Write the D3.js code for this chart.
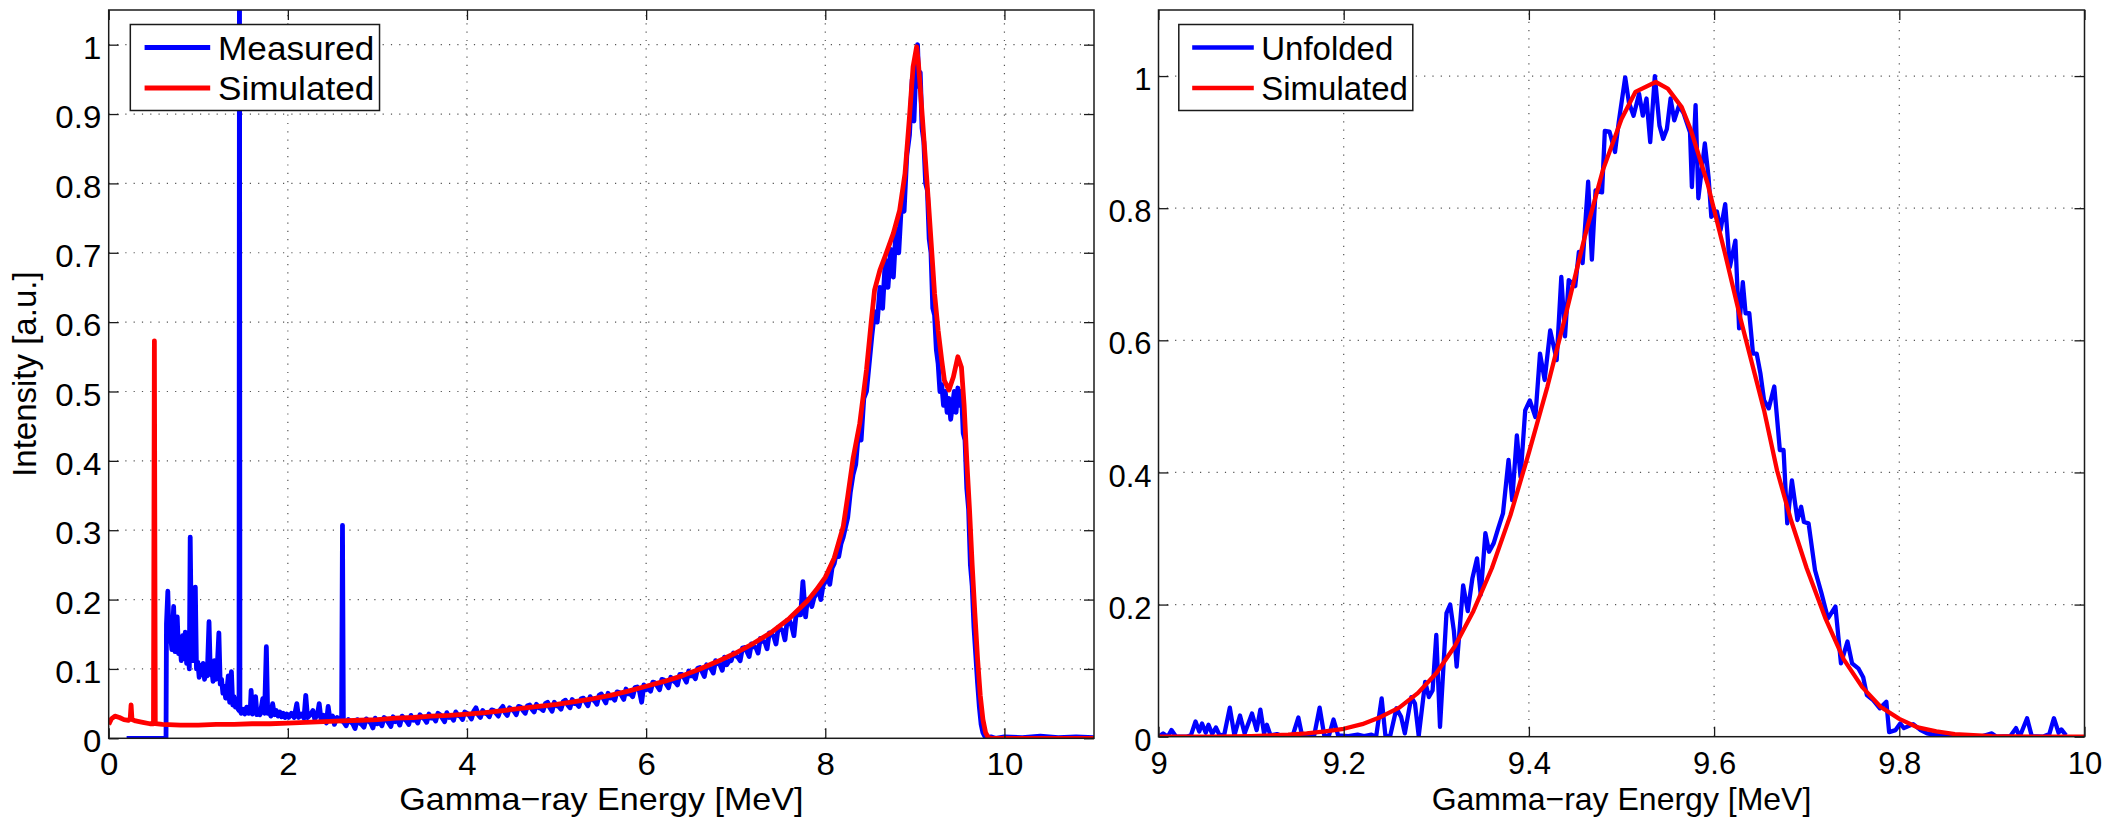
<!DOCTYPE html>
<html>
<head>
<meta charset="utf-8">
<script src="https://cdn.jsdelivr.net/npm/d3@7"></script>
<style>
  body { margin: 0; background: #fff; }
  svg { display: block; font-family: 'Liberation Sans', Arial, Helvetica, sans-serif; }
</style>
</head>
<body>
<svg width="2104" height="818"></svg>
<script>
/* global d3 */

// left panel: full spectrum, [energy MeV, intensity]
const measured = [
  [0.20, 0], [0.64, 0], [0.645, 0.165], [0.66, 0.212], [0.675, 0.140], [0.69, 0.150], [0.705, 0.128], [0.725, 0.190],
  [0.74, 0.125], [0.755, 0.130], [0.765, 0.175], [0.78, 0.122], [0.795, 0.140], [0.81, 0.112], [0.825, 0.148], [0.84, 0.115],
  [0.855, 0.153], [0.87, 0.108], [0.885, 0.128], [0.90, 0.100], [0.91, 0.290], [0.925, 0.118], [0.94, 0.112], [0.955, 0.125],
  [0.967, 0.218], [0.98, 0.100], [0.995, 0.110], [1.01, 0.088], [1.025, 0.105], [1.04, 0.092], [1.055, 0.108], [1.07, 0.085],
  [1.085, 0.102], [1.10, 0.090], [1.12, 0.168], [1.135, 0.092], [1.15, 0.100], [1.165, 0.082], [1.18, 0.112], [1.195, 0.085],
  [1.21, 0.098], [1.23, 0.152], [1.245, 0.078], [1.26, 0.085], [1.275, 0.065], [1.29, 0.075], [1.305, 0.058], [1.32, 0.070],
  [1.335, 0.090], [1.35, 0.052], [1.37, 0.096], [1.385, 0.048], [1.40, 0.060], [1.415, 0.045], [1.43, 0.050], [1.445, 0.042],
  [1.455, 0.040], [1.46, 1.2], [1.465, 0.040], [1.48, 0.036], [1.50, 0.042], [1.52, 0.035], [1.54, 0.045], [1.56, 0.036],
  [1.58, 0.040], [1.59, 0.069], [1.605, 0.035], [1.62, 0.042], [1.64, 0.060], [1.655, 0.034], [1.67, 0.040], [1.69, 0.034],
  [1.72, 0.057], [1.74, 0.036], [1.76, 0.132], [1.775, 0.036], [1.79, 0.040], [1.81, 0.032], [1.83, 0.050], [1.85, 0.034],
  [1.87, 0.040], [1.89, 0.032], [1.91, 0.038], [1.93, 0.031], [1.95, 0.036], [1.97, 0.030], [1.99, 0.035], [2.01, 0.030],
  [2.04, 0.036], [2.07, 0.030], [2.10, 0.050], [2.12, 0.030], [2.15, 0.035], [2.18, 0.029], [2.20, 0.062], [2.22, 0.030],
  [2.25, 0.034], [2.28, 0.040], [2.30, 0.028], [2.33, 0.034], [2.35, 0.050], [2.37, 0.028], [2.40, 0.033], [2.43, 0.022],
  [2.45, 0.046], [2.47, 0.028], [2.50, 0.032], [2.52, 0.020], [2.55, 0.030], [2.58, 0.026], [2.60, 0.025], [2.61, 0.307],
  [2.62, 0.024], [2.65, 0.018], [2.675, 0.027], [2.70, 0.024], [2.725, 0.021], [2.75, 0.014], [2.775, 0.027], [2.80, 0.022],
  [2.825, 0.020], [2.85, 0.016], [2.875, 0.028], [2.90, 0.025], [2.925, 0.022], [2.95, 0.015], [2.975, 0.029], [3.00, 0.021],
  [3.025, 0.024], [3.05, 0.018], [3.075, 0.030], [3.10, 0.027], [3.125, 0.022], [3.15, 0.017], [3.175, 0.031], [3.20, 0.024],
  [3.225, 0.026], [3.25, 0.019], [3.275, 0.032], [3.30, 0.028], [3.325, 0.025], [3.35, 0.020], [3.375, 0.033], [3.40, 0.026],
  [3.425, 0.027], [3.45, 0.022], [3.475, 0.034], [3.50, 0.030], [3.525, 0.028], [3.55, 0.023], [3.575, 0.035], [3.60, 0.029],
  [3.625, 0.030], [3.65, 0.025], [3.675, 0.036], [3.70, 0.034], [3.725, 0.029], [3.75, 0.024], [3.775, 0.037], [3.80, 0.030],
  [3.825, 0.031], [3.85, 0.026], [3.875, 0.038], [3.90, 0.033], [3.925, 0.032], [3.95, 0.027], [3.975, 0.038], [4.00, 0.036],
  [4.025, 0.033], [4.05, 0.028], [4.075, 0.039], [4.10, 0.044], [4.125, 0.034], [4.15, 0.030], [4.175, 0.040], [4.20, 0.036],
  [4.225, 0.035], [4.25, 0.031], [4.275, 0.041], [4.30, 0.040], [4.325, 0.036], [4.35, 0.032], [4.375, 0.042], [4.40, 0.046],
  [4.425, 0.037], [4.45, 0.033], [4.475, 0.044], [4.50, 0.042], [4.525, 0.039], [4.55, 0.034], [4.575, 0.046], [4.60, 0.045],
  [4.625, 0.040], [4.65, 0.036], [4.675, 0.047], [4.70, 0.048], [4.725, 0.042], [4.75, 0.038], [4.775, 0.049], [4.80, 0.044],
  [4.825, 0.043], [4.85, 0.040], [4.875, 0.050], [4.90, 0.052], [4.925, 0.044], [4.95, 0.039], [4.975, 0.052], [5.00, 0.047],
  [5.025, 0.046], [5.05, 0.042], [5.075, 0.053], [5.10, 0.055], [5.125, 0.048], [5.15, 0.044], [5.175, 0.056], [5.20, 0.050],
  [5.225, 0.050], [5.25, 0.046], [5.275, 0.057], [5.30, 0.058], [5.325, 0.052], [5.35, 0.047], [5.375, 0.060], [5.40, 0.056],
  [5.425, 0.054], [5.45, 0.049], [5.475, 0.062], [5.50, 0.064], [5.525, 0.057], [5.55, 0.051], [5.575, 0.065], [5.60, 0.058],
  [5.625, 0.059], [5.65, 0.055], [5.675, 0.067], [5.70, 0.066], [5.725, 0.062], [5.75, 0.056], [5.775, 0.071], [5.80, 0.064],
  [5.825, 0.064], [5.85, 0.060], [5.875, 0.073], [5.90, 0.074], [5.925, 0.068], [5.95, 0.052], [5.975, 0.077], [6.00, 0.070],
  [6.025, 0.072], [6.05, 0.068], [6.075, 0.081], [6.10, 0.080], [6.125, 0.075], [6.15, 0.070], [6.175, 0.085], [6.20, 0.084],
  [6.225, 0.078], [6.25, 0.073], [6.275, 0.088], [6.30, 0.083], [6.325, 0.081], [6.35, 0.077], [6.375, 0.092], [6.40, 0.092],
  [6.425, 0.087], [6.45, 0.081], [6.475, 0.097], [6.50, 0.090], [6.525, 0.091], [6.55, 0.086], [6.575, 0.101], [6.60, 0.102],
  [6.625, 0.096], [6.65, 0.089], [6.675, 0.106], [6.70, 0.103], [6.725, 0.100], [6.75, 0.094], [6.775, 0.112], [6.80, 0.108],
  [6.825, 0.106], [6.85, 0.098], [6.875, 0.117], [6.90, 0.106], [6.925, 0.111], [6.95, 0.112], [6.975, 0.123], [7.00, 0.119],
  [7.025, 0.117], [7.05, 0.112], [7.075, 0.130], [7.10, 0.131], [7.125, 0.125], [7.15, 0.118], [7.175, 0.136], [7.20, 0.132],
  [7.225, 0.131], [7.25, 0.123], [7.275, 0.144], [7.30, 0.140], [7.325, 0.139], [7.35, 0.129], [7.375, 0.152], [7.40, 0.150],
  [7.425, 0.147], [7.45, 0.136], [7.475, 0.160], [7.50, 0.158], [7.525, 0.155], [7.55, 0.142], [7.575, 0.170], [7.60, 0.170],
  [7.625, 0.162], [7.65, 0.148], [7.675, 0.180], [7.70, 0.178], [7.725, 0.178], [7.75, 0.226], [7.78, 0.175], [7.80, 0.200],
  [7.825, 0.198], [7.85, 0.190], [7.875, 0.203], [7.90, 0.208], [7.925, 0.216], [7.95, 0.200], [7.975, 0.220], [8.00, 0.226],
  [8.025, 0.236], [8.05, 0.222], [8.075, 0.245], [8.10, 0.252], [8.125, 0.268], [8.15, 0.262], [8.175, 0.280], [8.20, 0.290],
  [8.25, 0.318], [8.28, 0.355], [8.31, 0.380], [8.34, 0.395], [8.37, 0.440], [8.40, 0.430], [8.43, 0.490], [8.46, 0.500],
  [8.49, 0.540], [8.52, 0.580], [8.55, 0.615], [8.58, 0.600], [8.61, 0.650], [8.64, 0.620], [8.67, 0.690], [8.70, 0.650],
  [8.73, 0.705], [8.76, 0.665], [8.79, 0.735], [8.82, 0.700], [8.85, 0.770], [8.88, 0.760], [8.91, 0.840], [8.94, 0.870],
  [8.97, 0.950], [8.99, 0.890], [9.01, 0.960], [9.03, 1.000], [9.045, 0.940], [9.06, 0.960], [9.08, 0.880], [9.10, 0.860],
  [9.12, 0.800], [9.14, 0.790], [9.16, 0.720], [9.18, 0.700], [9.20, 0.620], [9.22, 0.610], [9.24, 0.560], [9.26, 0.540],
  [9.28, 0.500], [9.30, 0.510], [9.32, 0.480], [9.34, 0.500], [9.36, 0.470], [9.38, 0.490], [9.40, 0.460], [9.42, 0.480],
  [9.44, 0.500], [9.46, 0.470], [9.48, 0.505], [9.50, 0.480], [9.52, 0.500], [9.54, 0.440], [9.56, 0.430], [9.58, 0.360],
  [9.60, 0.330], [9.62, 0.250], [9.64, 0.220], [9.66, 0.160], [9.68, 0.120], [9.70, 0.080], [9.72, 0.045], [9.74, 0.020],
  [9.76, 0.008], [9.78, 0.003], [9.80, 0.001], [9.85, 0.002], [9.90, 0], [10.0, 0.002], [10.2, 0.001], [10.4, 0.003],
  [10.6, 0.001], [10.8, 0.002], [11.0, 0.001],
];

const simulated = [
  [0.00, 0.020], [0.03, 0.028], [0.07, 0.032], [0.12, 0.030], [0.17, 0.027], [0.22, 0.026], [0.24, 0.028], [0.25, 0.048],
  [0.26, 0.027], [0.30, 0.025], [0.38, 0.023], [0.46, 0.021], [0.50, 0.021], [0.51, 0.573], [0.52, 0.021], [0.60, 0.020],
  [0.80, 0.019], [1.00, 0.019], [1.20, 0.020], [1.40, 0.020], [1.60, 0.021], [1.80, 0.021], [2.00, 0.022], [2.20, 0.023],
  [2.40, 0.024], [2.60, 0.025], [2.80, 0.026], [3.00, 0.027], [3.20, 0.029], [3.40, 0.030], [3.60, 0.032], [3.80, 0.033],
  [4.00, 0.035], [4.20, 0.037], [4.40, 0.040], [4.60, 0.043], [4.80, 0.046], [5.00, 0.049], [5.20, 0.053], [5.40, 0.057],
  [5.60, 0.062], [5.80, 0.068], [6.00, 0.075], [6.20, 0.082], [6.40, 0.090], [6.60, 0.100], [6.80, 0.111], [7.00, 0.123],
  [7.20, 0.137], [7.40, 0.153], [7.60, 0.173], [7.80, 0.198], [7.90, 0.214], [8.00, 0.232], [8.10, 0.260], [8.20, 0.305],
  [8.25, 0.348], [8.31, 0.403], [8.385, 0.454], [8.46, 0.531], [8.515, 0.603], [8.55, 0.646], [8.61, 0.675], [8.68, 0.699],
  [8.76, 0.728], [8.83, 0.761], [8.89, 0.814], [8.94, 0.896], [8.98, 0.968], [9.02, 0.997], [9.04, 0.973], [9.07, 0.920],
  [9.11, 0.848], [9.15, 0.776], [9.19, 0.699], [9.22, 0.641], [9.26, 0.588], [9.30, 0.545], [9.33, 0.516], [9.38, 0.502],
  [9.43, 0.521], [9.48, 0.550], [9.52, 0.535], [9.55, 0.480], [9.58, 0.400], [9.61, 0.330], [9.64, 0.250], [9.67, 0.180],
  [9.70, 0.115], [9.73, 0.062], [9.76, 0.027], [9.79, 0.008], [9.82, 0.001], [9.86, 0], [11.0, 0],
];

// right panel: full-energy peak, [energy MeV, intensity]
const unfolded = [
  [9.000, 0], [9.005, 0.005], [9.010, 0], [9.014, 0.010], [9.019, 0], [9.030, 0], [9.035, 0.002], [9.040, 0.023],
  [9.044, 0.008], [9.047, 0.020], [9.051, 0.006], [9.054, 0.018], [9.058, 0.004], [9.062, 0.014], [9.066, 0.002], [9.071, 0.003],
  [9.077, 0.044], [9.082, 0.002], [9.088, 0.032], [9.093, 0.005], [9.101, 0.035], [9.106, 0.010], [9.110, 0.041], [9.114, 0.005],
  [9.117, 0.018], [9.121, 0.002], [9.128, 0.004], [9.135, 0], [9.145, 0.002], [9.151, 0.029], [9.155, 0.002], [9.168, 0.001],
  [9.174, 0.044], [9.179, 0.002], [9.184, 0.001], [9.189, 0.026], [9.194, 0.002], [9.205, 0.001], [9.215, 0.003], [9.222, 0.001],
  [9.230, 0.003], [9.235, 0], [9.241, 0.058], [9.245, 0.002], [9.250, 0], [9.257, 0.043], [9.262, 0.030], [9.266, 0.005],
  [9.273, 0.060], [9.277, 0.050], [9.281, 0.001], [9.288, 0.083], [9.292, 0.060], [9.296, 0.070], [9.300, 0.154], [9.304, 0.015],
  [9.311, 0.187], [9.315, 0.200], [9.319, 0.160], [9.322, 0.106], [9.329, 0.229], [9.334, 0.190], [9.339, 0.240], [9.344, 0.270],
  [9.348, 0.215], [9.353, 0.308], [9.357, 0.280], [9.362, 0.293], [9.367, 0.316], [9.372, 0.338], [9.378, 0.419], [9.382, 0.358],
  [9.387, 0.456], [9.391, 0.393], [9.396, 0.494], [9.401, 0.509], [9.407, 0.484], [9.412, 0.580], [9.417, 0.540], [9.423, 0.615],
  [9.430, 0.570], [9.435, 0.696], [9.439, 0.606], [9.443, 0.691], [9.450, 0.682], [9.454, 0.734], [9.458, 0.717], [9.464, 0.840],
  [9.468, 0.722], [9.472, 0.827], [9.479, 0.824], [9.482, 0.917], [9.487, 0.916], [9.493, 0.885], [9.497, 0.930], [9.504, 0.998],
  [9.508, 0.960], [9.513, 0.940], [9.519, 0.973], [9.523, 0.940], [9.527, 0.966], [9.531, 0.900], [9.536, 1.000], [9.541, 0.925],
  [9.545, 0.905], [9.549, 0.920], [9.553, 0.966], [9.557, 0.933], [9.562, 0.955], [9.567, 0.944], [9.574, 0.915], [9.576, 0.832],
  [9.580, 0.956], [9.583, 0.815], [9.590, 0.898], [9.594, 0.847], [9.597, 0.787], [9.603, 0.795], [9.607, 0.767], [9.612, 0.806],
  [9.617, 0.711], [9.623, 0.751], [9.627, 0.618], [9.631, 0.688], [9.634, 0.641], [9.638, 0.641], [9.642, 0.580], [9.646, 0.580],
  [9.650, 0.550], [9.654, 0.509], [9.659, 0.497], [9.665, 0.530], [9.671, 0.434], [9.675, 0.434], [9.679, 0.323], [9.684, 0.388],
  [9.690, 0.328], [9.694, 0.348], [9.697, 0.325], [9.702, 0.323], [9.709, 0.252], [9.716, 0.217], [9.723, 0.179], [9.731, 0.197],
  [9.737, 0.111], [9.744, 0.144], [9.749, 0.111], [9.756, 0.103], [9.761, 0.090], [9.765, 0.063], [9.772, 0.055], [9.779, 0.043],
  [9.786, 0.053], [9.789, 0.007], [9.796, 0.010], [9.801, 0.020], [9.805, 0.013], [9.815, 0.019], [9.823, 0.010], [9.830, 0.005],
  [9.837, 0.003], [9.850, 0.001], [9.870, 0], [9.890, 0.001], [9.900, 0.005], [9.905, 0], [9.920, 0.001], [9.926, 0.013],
  [9.930, 0], [9.938, 0.028], [9.943, 0.001], [9.955, 0], [9.962, 0.004], [9.967, 0.028], [9.972, 0.006], [9.975, 0.011],
  [9.980, 0.002],
];

const simulatedPeak = [
  [9.00, 0], [9.06, 0], [9.10, 0.001], [9.14, 0.003], [9.16, 0.005], [9.18, 0.008], [9.20, 0.012], [9.22, 0.019],
  [9.24, 0.030], [9.26, 0.044], [9.28, 0.066], [9.30, 0.096], [9.32, 0.137], [9.34, 0.190], [9.36, 0.255], [9.38, 0.335],
  [9.40, 0.430], [9.42, 0.530], [9.44, 0.640], [9.46, 0.755], [9.48, 0.858], [9.50, 0.935], [9.515, 0.976], [9.537, 0.991],
  [9.55, 0.981], [9.565, 0.953], [9.575, 0.918], [9.593, 0.837], [9.611, 0.736], [9.629, 0.630], [9.654, 0.494], [9.668, 0.403],
  [9.683, 0.328], [9.70, 0.255], [9.72, 0.180], [9.74, 0.117], [9.76, 0.075], [9.78, 0.045], [9.80, 0.027], [9.82, 0.014],
  [9.84, 0.008], [9.86, 0.004], [9.90, 0.001], [9.95, 0], [10.0, 0],
];

const leftXTicks = [0, 2, 4, 6, 8, 10];
const leftXLabels = ['0', '2', '4', '6', '8', '10'];
const leftYTicks = [0, 0.1, 0.2, 0.3, 0.4, 0.5, 0.6, 0.7, 0.8, 0.9, 1];
const leftYLabels = ['0', '0.1', '0.2', '0.3', '0.4', '0.5', '0.6', '0.7', '0.8', '0.9', '1'];
const rightXTicks = [9, 9.2, 9.4, 9.6, 9.8, 10];
const rightXLabels = ['9', '9.2', '9.4', '9.6', '9.8', '10'];
const rightYTicks = [0, 0.2, 0.4, 0.6, 0.8, 1];
const rightYLabels = ['0', '0.2', '0.4', '0.6', '0.8', '1'];
const xTitle = 'Gamma\u2212ray Energy [MeV]';
const yTitle = 'Intensity [a.u.]';

const blue = '#0000ff';
const red = '#ff0000';
const ink = '#1a1a1a';

const svg = d3.select('svg');

const panels = [
  {
    id: 'left', left: 108.7, right: 1094, top: 10, bottom: 738.3, sx: 1.065,
    xDomain: [0, 11], yDomain: [0, 1.05],
    xTicks: leftXTicks, xLabels: leftXLabels, yTicks: leftYTicks, yLabels: leftYLabels,
    series: [
      { name: 'Measured', data: measured, color: blue },
      { name: 'Simulated', data: simulated, color: red },
    ],
    titleBaseline: 810, lineWidth: 4.8,
  },
  {
    id: 'right', left: 1158.5, right: 2084.5, top: 10, bottom: 736.7, sx: 1,
    xDomain: [9, 10], yDomain: [0, 1.1],
    xTicks: rightXTicks, xLabels: rightXLabels, yTicks: rightYTicks, yLabels: rightYLabels,
    series: [
      { name: 'Unfolded', data: unfolded, color: blue },
      { name: 'Simulated', data: simulatedPeak, color: red },
    ],
    titleBaseline: 810, lineWidth: 4.3,
  },
];

panels.forEach(drawPanel);

// y label only on the left panel
svg.append('text')
  .attr('transform', `translate(36,${(panels[0].top + panels[0].bottom) / 2}) rotate(-90)`)
  .attr('text-anchor', 'middle')
  .attr('font-size', 33)
  .attr('fill', '#000')
  .text(yTitle);

function drawPanel(p) {
  const x = d3.scaleLinear().domain(p.xDomain).range([p.left, p.right]);
  const y = d3.scaleLinear().domain(p.yDomain).range([p.bottom, p.top]);
  const g = svg.append('g').attr('class', `panel-${p.id}`);
  const stretch = `scale(${p.sx},1)`;

  g.append('clipPath').attr('id', `clip-${p.id}`)
    .append('rect')
    .attr('x', p.left).attr('y', p.top)
    .attr('width', p.right - p.left).attr('height', p.bottom - p.top);

  // dotted grid
  const grid = g.append('g')
    .attr('stroke', '#555')
    .attr('stroke-width', 1.2)
    .attr('stroke-dasharray', '1.2,7.1');
  grid.selectAll('line.vgrid')
    .data(p.xTicks.filter(d => d > p.xDomain[0] && d < p.xDomain[1]))
    .enter().append('line')
    .attr('class', 'vgrid')
    .attr('x1', d => x(d)).attr('x2', d => x(d))
    .attr('y1', p.bottom).attr('y2', p.top);
  grid.selectAll('line.hgrid')
    .data(p.yTicks.filter(d => d > p.yDomain[0]))
    .enter().append('line')
    .attr('class', 'hgrid')
    .attr('x1', p.left).attr('x2', p.right)
    .attr('y1', d => y(d)).attr('y2', d => y(d));

  const line = d3.line().x(d => x(d[0])).y(d => y(d[1]));

  g.append('g')
    .attr('clip-path', `url(#clip-${p.id})`)
    .selectAll('path.series')
    .data(p.series)
    .enter().append('path')
    .attr('class', 'series')
    .attr('d', s => line(s.data))
    .attr('fill', 'none')
    .attr('stroke', s => s.color)
    .attr('stroke-width', p.lineWidth)
    .attr('stroke-linejoin', 'round');

  // axes: ticks point inwards, mirrored on top and right
  const styleAxis = a => a
    .attr('font-size', 31)
    .attr('font-family', null)
    .attr('color', ink)
    .call(s => s.select('.domain').remove())
    .call(s => s.selectAll('.tick line').attr('stroke-width', 1.3));

  g.append('g')
    .attr('transform', `translate(0,${p.bottom})`)
    .call(d3.axisBottom(x).tickValues(p.xTicks).tickFormat((d, i) => p.xLabels[i])
      .tickSizeInner(-10).tickSizeOuter(0).tickPadding(15))
    .call(styleAxis)
    .call(a => a.selectAll('text').attr('fill', '#000').attr('transform', stretch));

  g.append('g')
    .attr('transform', `translate(${p.left},0)`)
    .call(d3.axisLeft(y).tickValues(p.yTicks).tickFormat((d, i) => p.yLabels[i])
      .tickSizeInner(-10).tickSizeOuter(0).tickPadding(7))
    .call(styleAxis)
    .call(a => a.selectAll('text').attr('fill', '#000').attr('dy', '0.44em').attr('transform', stretch));

  g.append('g')
    .attr('transform', `translate(0,${p.top})`)
    .call(d3.axisTop(x).tickValues(p.xTicks).tickSizeInner(-10).tickSizeOuter(0))
    .call(styleAxis)
    .call(a => a.selectAll('text').remove());

  g.append('g')
    .attr('transform', `translate(${p.right},0)`)
    .call(d3.axisRight(y).tickValues(p.yTicks).tickSizeInner(-10).tickSizeOuter(0))
    .call(styleAxis)
    .call(a => a.selectAll('text').remove());

  g.append('rect')
    .attr('x', p.left).attr('y', p.top)
    .attr('width', p.right - p.left).attr('height', p.bottom - p.top)
    .attr('fill', 'none')
    .attr('stroke', ink)
    .attr('stroke-width', 1.5);

  g.append('text')
    .attr('transform', `translate(${(p.left + p.right) / 2},${p.titleBaseline}) ${stretch}`)
    .attr('text-anchor', 'middle')
    .attr('font-size', 32)
    .attr('fill', '#000')
    .text(xTitle);

  // legend, top left corner
  const lx = p.left + 20.3 * p.sx;
  const ly = p.top + 14.5;
  const legend = g.append('g').attr('class', 'legend');
  legend.append('rect')
    .attr('x', lx).attr('y', ly)
    .attr('width', 234 * p.sx).attr('height', 86)
    .attr('fill', '#fff')
    .attr('stroke', ink)
    .attr('stroke-width', 1.5);

  const rows = legend.selectAll('g.entry')
    .data(p.series)
    .enter().append('g')
    .attr('class', 'entry')
    .attr('transform', (s, i) => `translate(${lx},${ly + 23 + i * 40.5})`);
  rows.append('line')
    .attr('x1', 13.4 * p.sx).attr('x2', 75 * p.sx)
    .attr('stroke', s => s.color)
    .attr('stroke-width', p.lineWidth);
  rows.append('text')
    .attr('transform', `translate(${82.4 * p.sx},12) ${stretch}`)
    .attr('font-size', 33)
    .attr('fill', '#000')
    .text(s => s.name);
}
</script>
</body>
</html>
